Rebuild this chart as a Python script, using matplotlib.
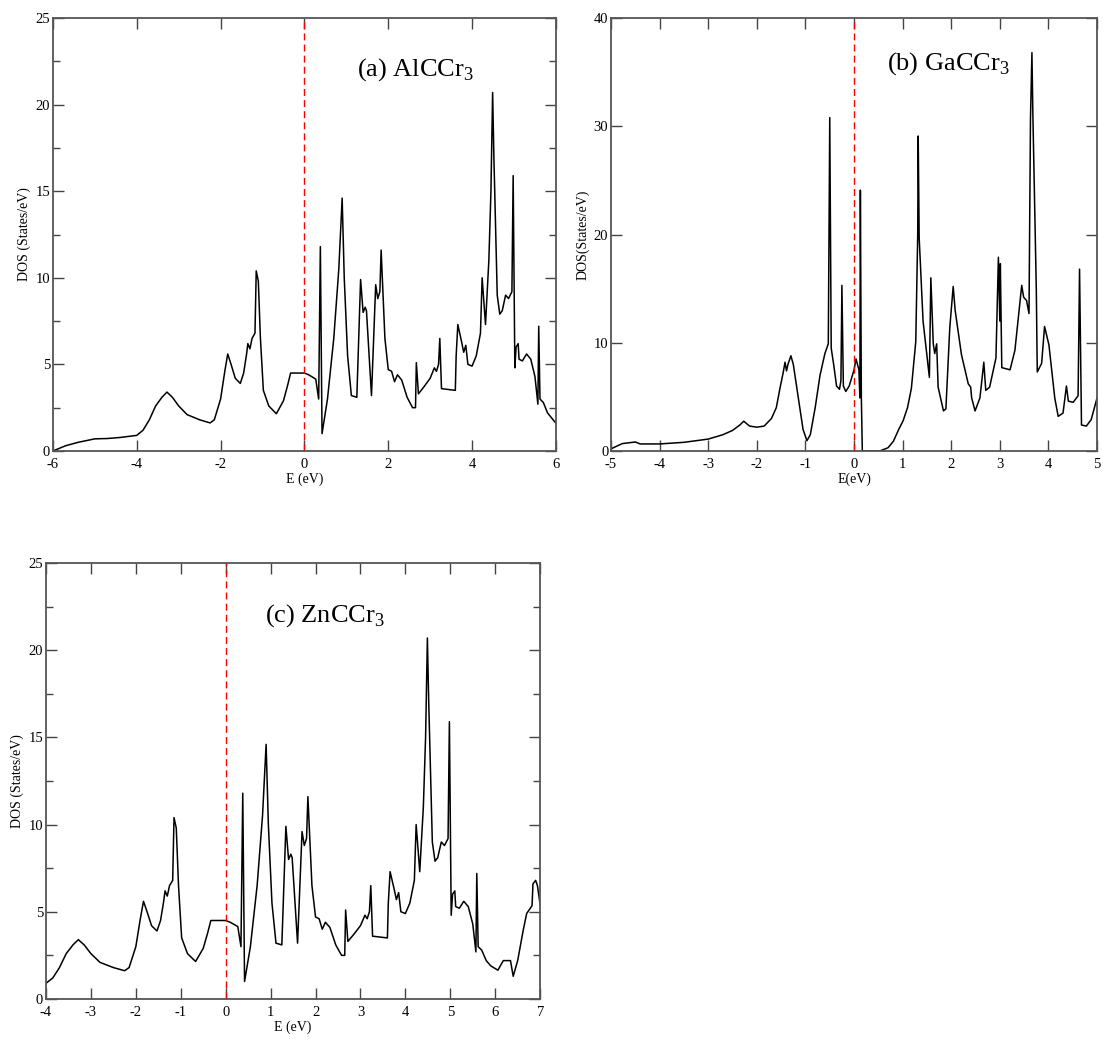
import matplotlib
matplotlib.use("Agg")
import matplotlib.pyplot as plt
from matplotlib.ticker import MultipleLocator

plt.rcParams['font.family'] = ['Liberation Serif', 'DejaVu Serif']
plt.rcParams['mathtext.fontset'] = 'custom'
plt.rcParams['mathtext.rm'] = 'Liberation Serif'
plt.rcParams['axes.unicode_minus'] = False

# total DOS of AlCCr3
al_e = [-6.0, -5.7, -5.4, -5.0, -4.7, -4.4, -4.0, -3.85, -3.7, -3.55, -3.4, -3.28, -3.15, -3.0,
        -2.8, -2.5, -2.25, -2.15, -2.0, -1.9, -1.83, -1.75, -1.65, -1.53, -1.45, -1.38, -1.35,
        -1.3, -1.25, -1.18, -1.15, -1.1, -1.05, -0.98, -0.85, -0.67, -0.5, -0.4, -0.33, 0.0,
        0.1, 0.27, 0.34, 0.38, 0.42, 0.55, 0.7, 0.82, 0.9, 0.95, 1.03, 1.12, 1.25, 1.34, 1.4,
        1.45, 1.48, 1.6, 1.7, 1.75, 1.8, 1.83, 1.92, 2.0, 2.08, 2.15, 2.22, 2.32, 2.45, 2.58,
        2.65, 2.67, 2.72, 2.85, 3.0, 3.1, 3.15, 3.2, 3.23, 3.27, 3.6, 3.62, 3.66, 3.75, 3.8,
        3.85, 3.9, 4.0, 4.1, 4.2, 4.24, 4.32, 4.4, 4.45, 4.49, 4.52, 4.6, 4.66, 4.72, 4.8,
        4.87, 4.95, 4.98, 5.02, 5.05, 5.1, 5.12, 5.2, 5.3, 5.4, 5.5, 5.57, 5.59, 5.62, 5.7,
        5.8, 5.9, 6.0]
al_dos = [0.0, 0.3, 0.5, 0.7, 0.72, 0.78, 0.9, 1.2, 1.8, 2.6, 3.1, 3.4, 3.1, 2.6,
          2.1, 1.8, 1.62, 1.8, 3.0, 4.6, 5.6, 5.0, 4.2, 3.9, 4.5, 5.6, 6.2,
          5.9, 6.5, 6.8, 10.4, 9.8, 6.5, 3.5, 2.6, 2.15, 2.9, 3.8, 4.5, 4.5,
          4.4, 4.15, 3.0, 11.8, 1.0, 3.0, 6.5, 10.5, 14.6, 10.0, 5.5, 3.2, 3.1, 9.9, 8.0,
          8.3, 8.1, 3.2, 9.6, 8.8, 9.2, 11.6, 6.5, 4.7, 4.6, 4.0, 4.4, 4.1, 3.1, 2.5,
          2.5, 5.1, 3.3, 3.7, 4.2, 4.8, 4.6, 5.0, 6.5, 3.6, 3.5, 5.5, 7.3, 6.3, 5.7,
          6.1, 5.0, 4.9, 5.5, 6.8, 10.0, 7.3, 11.0, 15.0, 20.7, 17.0, 9.0, 7.9, 8.1, 9.0,
          8.8, 9.2, 15.9, 4.8, 6.0, 6.2, 5.3, 5.2, 5.6, 5.3, 4.3, 2.7, 7.2, 3.0, 2.8,
          2.2, 1.9, 1.6]

# total DOS of GaCCr3
ga_e = [-5.0, -4.77, -4.5, -4.4, -4.0, -3.5, -3.0, -2.7, -2.5, -2.35, -2.27, -2.15, -2.0,
        -1.85, -1.7, -1.6, -1.52, -1.46, -1.42, -1.39, -1.36, -1.3, -1.25, -1.15, -1.05,
        -0.97, -0.9, -0.8, -0.7, -0.6, -0.53, -0.5, -0.47, -0.42, -0.36, -0.3, -0.27, -0.25,
        -0.22, -0.17, -0.1, 0.0, 0.04, 0.1, 0.12, 0.13, 0.15, 0.17, 0.53, 0.7, 0.81, 0.92,
        1.01, 1.1, 1.18, 1.27, 1.31, 1.32, 1.34, 1.42, 1.55, 1.58, 1.63, 1.66, 1.7, 1.73,
        1.84, 1.89, 1.97, 2.04, 2.08, 2.21, 2.35, 2.4, 2.42, 2.49, 2.59, 2.67, 2.71, 2.79,
        2.92, 2.97, 3.0, 3.01, 3.04, 3.21, 3.31, 3.45, 3.49, 3.55, 3.6, 3.63, 3.66, 3.68,
        3.75, 3.77, 3.86, 3.92, 4.01, 4.13, 4.2, 4.3, 4.37, 4.41, 4.51, 4.61, 4.64, 4.68,
        4.78, 4.88, 5.0]
ga_dos = [0.2, 0.68, 0.83, 0.65, 0.65, 0.8, 1.1, 1.5, 1.9, 2.4, 2.75, 2.3, 2.2,
          2.3, 3.0, 4.0, 5.9, 7.2, 8.2, 7.4, 8.0, 8.8, 8.0, 5.0, 2.0,
          0.95, 1.5, 4.0, 7.0, 9.0, 9.9, 30.8, 9.5, 8.0, 6.0, 5.7, 6.5, 15.3,
          6.0, 5.5, 6.0, 7.5, 8.5, 7.5, 4.9, 24.1, 5.0, 0.0, 0.0, 0.3, 0.9, 2.0,
          2.8, 4.0, 5.8, 10.1, 20.0, 29.1, 19.7, 12.0, 6.8, 16.0, 9.9, 9.0, 9.9, 5.9,
          3.7, 3.9, 11.4, 15.2, 13.0, 8.9, 6.2, 5.9, 4.9, 3.7, 4.9, 8.2, 5.6, 5.9,
          8.6, 17.9, 12.0, 17.3, 7.7, 7.5, 9.3, 15.3, 14.2, 13.9, 12.7, 30.6, 36.8, 31.0,
          15.0, 7.3, 8.1, 11.5, 9.8, 4.9, 3.2, 3.5, 6.0, 4.6, 4.5, 5.1, 16.8, 2.4,
          2.3, 2.9, 4.9]

# total DOS of ZnCCr3
zn_e = [-4.0, -3.85, -3.7, -3.55, -3.4, -3.28, -3.15, -3.0,
        -2.8, -2.5, -2.25, -2.15, -2.0, -1.9, -1.83, -1.75, -1.65, -1.53, -1.45, -1.38, -1.35,
        -1.3, -1.25, -1.18, -1.15, -1.1, -1.05, -0.98, -0.85, -0.67, -0.5, -0.4, -0.33, 0.0,
        0.1, 0.27, 0.34, 0.38, 0.42, 0.55, 0.7, 0.82, 0.9, 0.95, 1.03, 1.12, 1.25, 1.34, 1.4,
        1.45, 1.48, 1.6, 1.7, 1.75, 1.8, 1.83, 1.92, 2.0, 2.08, 2.15, 2.22, 2.32, 2.45, 2.58,
        2.65, 2.67, 2.72, 2.85, 3.0, 3.1, 3.15, 3.2, 3.23, 3.27, 3.6, 3.62, 3.66, 3.75, 3.8,
        3.85, 3.9, 4.0, 4.1, 4.2, 4.24, 4.32, 4.4, 4.45, 4.49, 4.52, 4.6, 4.66, 4.72, 4.8,
        4.87, 4.95, 4.98, 5.02, 5.05, 5.1, 5.12, 5.2, 5.3, 5.4, 5.5, 5.57, 5.59, 5.62, 5.7,
        5.8, 5.9, 6.06, 6.18, 6.34, 6.4, 6.5, 6.62, 6.7, 6.82, 6.84, 6.9, 6.94, 7.0]
zn_dos = [0.9, 1.2, 1.8, 2.6, 3.1, 3.4, 3.1, 2.6,
          2.1, 1.8, 1.62, 1.8, 3.0, 4.6, 5.6, 5.0, 4.2, 3.9, 4.5, 5.6, 6.2,
          5.9, 6.5, 6.8, 10.4, 9.8, 6.5, 3.5, 2.6, 2.15, 2.9, 3.8, 4.5, 4.5,
          4.4, 4.15, 3.0, 11.8, 1.0, 3.0, 6.5, 10.5, 14.6, 10.0, 5.5, 3.2, 3.1, 9.9, 8.0,
          8.3, 8.1, 3.2, 9.6, 8.8, 9.2, 11.6, 6.5, 4.7, 4.6, 4.0, 4.4, 4.1, 3.1, 2.5,
          2.5, 5.1, 3.3, 3.7, 4.2, 4.8, 4.6, 5.0, 6.5, 3.6, 3.5, 5.5, 7.3, 6.3, 5.7,
          6.1, 5.0, 4.9, 5.5, 6.8, 10.0, 7.3, 11.0, 15.0, 20.7, 17.0, 9.0, 7.9, 8.1, 9.0,
          8.8, 9.2, 15.9, 4.8, 6.0, 6.2, 5.3, 5.2, 5.6, 5.3, 4.3, 2.7, 7.2, 3.0, 2.8,
          2.2, 1.9, 1.65, 2.2, 2.2, 1.3, 2.2, 3.9, 4.9, 5.35, 6.6, 6.8, 6.5, 5.4]

panels = [
    # e, dos, axes rect, xlim, ylim, x step, y major, y minor, xlabel, ylabel, title, title pos
    (al_e, al_dos, [0.048, 0.5672, 0.456, 0.4155], (-6, 6), (0, 25), 2, 5, 2.5,
     'E (eV)', 'DOS (States/eV)', r'(a) AlCCr$_3$', (1.25, 22.0)),
    (ga_e, ga_dos, [0.554, 0.5672, 0.4406, 0.4155], (-5, 5), (0, 40), 1, 10, None,
     'E(eV)', 'DOS(States/eV)', r'(b) GaCCr$_3$', (0.68, 35.8)),
    (zn_e, zn_dos, [0.0417, 0.0413, 0.448, 0.4184], (-4, 7), (0, 25), 1, 5, 2.5,
     'E (eV)', 'DOS (States/eV)', r'(c) ZnCCr$_3$', (0.87, 22.0)),
]

fig = plt.figure(figsize=(11.03, 10.42), dpi=100)

for e, dos, rect, xl, yl, xs, ym, yn, xlab, ylab, title, tpos in panels:
    ax = fig.add_axes(rect)
    ax.plot(e, dos, color='black', lw=1.1)
    ax.axvline(0, color='red', lw=1.0, ls=(0, (5, 3)))
    ax.set_xlim(*xl)
    ax.set_ylim(*yl)
    ax.xaxis.set_major_locator(MultipleLocator(xs))
    ax.yaxis.set_major_locator(MultipleLocator(ym))
    if yn:
        ax.yaxis.set_minor_locator(MultipleLocator(yn))
    ax.tick_params(which='both', direction='in', top=True, right=True,
                   labelsize=10.5, color='#444444')
    ax.tick_params(axis='x', pad=5)
    ax.tick_params(axis='y', pad=2)
    ax.tick_params(which='major', length=8, width=1)
    ax.tick_params(which='minor', length=5, width=1)
    for s in ax.spines.values():
        s.set_color('#555555')
        s.set_linewidth(1.3)
    ax.set_xlabel(xlab, fontsize=10, labelpad=1)
    ax.set_ylabel(ylab, fontsize=10, labelpad=3)
    ax.text(tpos[0], tpos[1], title, fontsize=19, ha='left', va='center')

fig.savefig('out.png', dpi=100)
